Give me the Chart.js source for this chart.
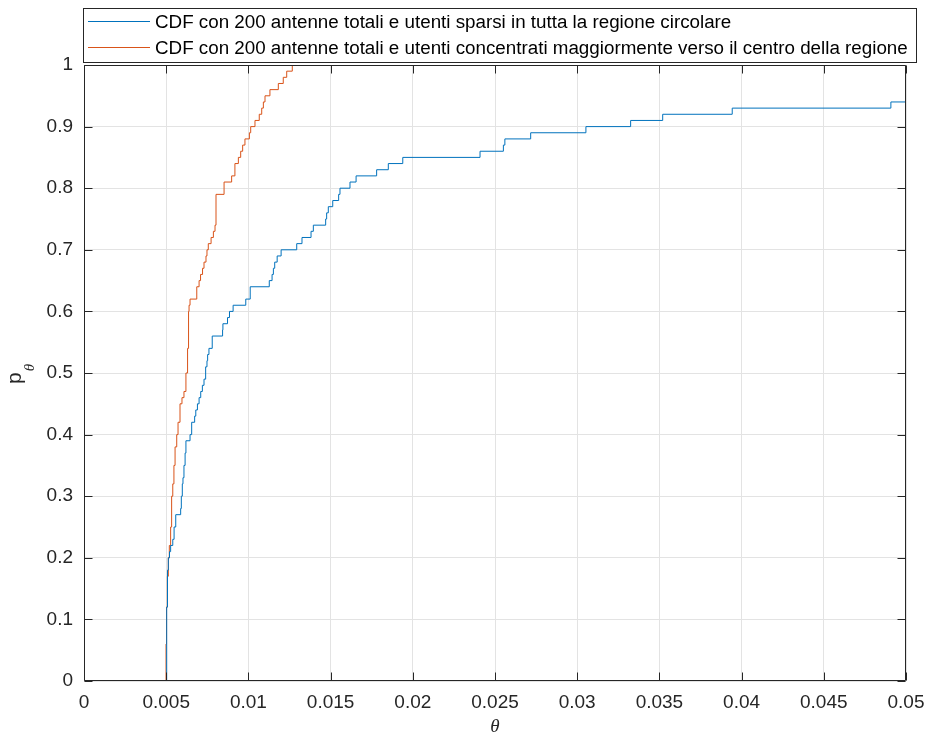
<!DOCTYPE html>
<html>
<head>
<meta charset="utf-8">
<script src="https://cdn.jsdelivr.net/npm/chart.js@4"></script>
<style>
  html, body { margin: 0; padding: 0; background: #ffffff; }
  #wrap { width: 928px; height: 736px; position: relative; }
</style>
</head>
<body>
<div id="wrap"><canvas id="c" width="928" height="736"></canvas></div>
<script>
// Empirical CDF samples: theta value where each step lands, and the CDF level reached there
const thetaSparsi = [0.00500, 0.00503, 0.00508, 0.00513, 0.00520, 0.00527, 0.00540, 0.00548, 0.00558, 0.00588,
  0.00592, 0.00598, 0.00602, 0.00608, 0.00615, 0.00620, 0.00645, 0.00655, 0.00673, 0.00680,
  0.00690, 0.00700, 0.00710, 0.00720, 0.00730, 0.00740, 0.00748, 0.00752, 0.00760, 0.00780,
  0.00843, 0.00845, 0.00873, 0.00885, 0.00907, 0.00984, 0.01011, 0.01127, 0.01144, 0.01152,
  0.01160, 0.01175, 0.01199, 0.01294, 0.01326, 0.01381, 0.01395, 0.01470, 0.01476, 0.01486,
  0.01513, 0.01549, 0.01557, 0.01618, 0.01655, 0.01780, 0.01851, 0.01939, 0.02409, 0.02551,
  0.02560, 0.02717, 0.03053, 0.03325, 0.03520, 0.03943, 0.04908, 0.05000];
const pSparsi = [0, 0.12, 0.18, 0.20, 0.21, 0.22, 0.23, 0.25, 0.27, 0.28,
  0.30, 0.32, 0.33, 0.35, 0.37, 0.39, 0.40, 0.42, 0.43, 0.44,
  0.45, 0.46, 0.47, 0.48, 0.49, 0.51, 0.52, 0.53, 0.54, 0.56,
  0.57, 0.58, 0.59, 0.60, 0.61, 0.62, 0.64, 0.65, 0.66, 0.67,
  0.68, 0.69, 0.70, 0.71, 0.72, 0.73, 0.74, 0.75, 0.76, 0.77,
  0.78, 0.79, 0.80, 0.81, 0.82, 0.83, 0.84, 0.85, 0.86, 0.87,
  0.88, 0.89, 0.90, 0.91, 0.92, 0.93, 0.94, 0.94];

const thetaCentro = [0.00497, 0.00499, 0.00502, 0.00507, 0.00513, 0.00519, 0.00527, 0.00533, 0.00540, 0.00547,
  0.00554, 0.00564, 0.00572, 0.00584, 0.00596, 0.00608, 0.00620, 0.00630, 0.00636, 0.00639,
  0.00645, 0.00686, 0.00700, 0.00709, 0.00721, 0.00730, 0.00742, 0.00748, 0.00756, 0.00773,
  0.00787, 0.00797, 0.00803, 0.00852, 0.00898, 0.00918, 0.00939, 0.00953, 0.00965, 0.00979,
  0.01006, 0.01014, 0.01040, 0.01066, 0.01081, 0.01091, 0.01101, 0.01131, 0.01182, 0.01212,
  0.01233, 0.01267];
const pCentro = [0, 0.06, 0.12, 0.17, 0.20, 0.22, 0.25, 0.30, 0.32, 0.35,
  0.38, 0.40, 0.42, 0.45, 0.46, 0.47, 0.50, 0.54, 0.60, 0.61,
  0.62, 0.64, 0.65, 0.66, 0.67, 0.68, 0.69, 0.70, 0.71, 0.72,
  0.73, 0.74, 0.79, 0.81, 0.82, 0.84, 0.85, 0.86, 0.87, 0.88,
  0.89, 0.90, 0.91, 0.92, 0.93, 0.94, 0.95, 0.96, 0.97, 0.98,
  0.99, 1.00];

const xTickValues = [0, 0.005, 0.01, 0.015, 0.02, 0.025, 0.03, 0.035, 0.04, 0.045, 0.05];
const xTickLabels = ['0', '0.005', '0.01', '0.015', '0.02', '0.025', '0.03', '0.035', '0.04', '0.045', '0.05'];
const yTickValues = [0, 0.1, 0.2, 0.3, 0.4, 0.5, 0.6, 0.7, 0.8, 0.9, 1];
const yTickLabels = ['0', '0.1', '0.2', '0.3', '0.4', '0.5', '0.6', '0.7', '0.8', '0.9', '1'];

const seriesLabels = [
  'CDF con 200 antenne totali e utenti sparsi in tutta la regione circolare',
  'CDF con 200 antenne totali e utenti concentrati maggiormente verso il centro della regione'
];
const seriesColors = ['#0072BD', '#D95319'];

const AXIS_COLOR = '#262626';
const SANS = '"Liberation Sans", Arial, Helvetica, sans-serif';
const SERIF = '"Liberation Serif", "Times New Roman", serif';

function toPoints(xs, ys) {
  return xs.map((x, i) => ({ x: x, y: ys[i] }));
}

// Box, inward tick marks, axis titles and the boxed legend
const decorations = {
  id: 'decorations',
  afterDraw(chart) {
    const ctx = chart.ctx;
    const a = chart.chartArea;
    const xs = chart.scales.x, ys = chart.scales.y;
    const L = Math.round(a.left) + 0.5, R = Math.round(a.right) - 0.5;
    const T = Math.round(a.top) + 0.5, B = Math.round(a.bottom) - 0.5;
    const tick = 8;
    ctx.save();
    ctx.strokeStyle = AXIS_COLOR;
    ctx.lineWidth = 1;
    ctx.beginPath();
    ctx.rect(L, T, R - L, B - T);
    xTickValues.forEach(v => {
      const px = Math.round(xs.getPixelForValue(v)) + 0.5;
      ctx.moveTo(px, B); ctx.lineTo(px, B - tick);
      ctx.moveTo(px, T); ctx.lineTo(px, T + tick);
    });
    yTickValues.forEach(v => {
      const py = Math.round(ys.getPixelForValue(v)) + 0.5;
      ctx.moveTo(L, py); ctx.lineTo(L + tick, py);
      ctx.moveTo(R, py); ctx.lineTo(R - tick, py);
    });
    ctx.stroke();

    // x title
    ctx.fillStyle = AXIS_COLOR;
    ctx.font = 'italic 19px ' + SERIF;
    ctx.textAlign = 'center';
    ctx.textBaseline = 'middle';
    ctx.fillText('\u03B8', (a.left + a.right) / 2, 727);

    // y title: p with subscript theta, rotated to read upwards
    ctx.save();
    ctx.translate(21, 384);
    ctx.rotate(-Math.PI / 2);
    ctx.textAlign = 'left';
    ctx.textBaseline = 'alphabetic';
    ctx.font = '21px ' + SANS;
    const pw = ctx.measureText('p').width;
    ctx.fillText('p', 0, 0);
    ctx.font = 'italic 15px ' + SERIF;
    ctx.fillText('\u03B8', pw + 1, 13);
    ctx.restore();

    // legend
    const lx = 83.5, ly = 8.5, lw = 833, lh = 54;
    ctx.fillStyle = '#ffffff';
    ctx.fillRect(lx, ly, lw, lh);
    ctx.strokeStyle = AXIS_COLOR;
    ctx.strokeRect(lx, ly, lw, lh);
    const rows = [21.5, 47.5];
    ctx.font = '18.8px ' + SANS;
    ctx.textAlign = 'left';
    ctx.textBaseline = 'middle';
    chart.data.datasets.forEach((ds, i) => {
      ctx.strokeStyle = ds.borderColor;
      ctx.beginPath();
      ctx.moveTo(88, rows[i]); ctx.lineTo(150, rows[i]);
      ctx.stroke();
      ctx.fillStyle = '#000000';
      ctx.fillText(ds.label, 155, rows[i] + 1);
    });
    ctx.restore();
  }
};

new Chart(document.getElementById('c'), {
  type: 'scatter',
  data: {
    datasets: [
      {
        label: seriesLabels[0],
        data: toPoints(thetaSparsi, pSparsi),
        borderColor: seriesColors[0],
        backgroundColor: seriesColors[0],
        showLine: true, stepped: 'before', borderWidth: 1, pointRadius: 0, fill: false
      },
      {
        label: seriesLabels[1],
        data: toPoints(thetaCentro, pCentro),
        borderColor: seriesColors[1],
        backgroundColor: seriesColors[1],
        showLine: true, stepped: 'before', borderWidth: 1, pointRadius: 0, fill: false
      }
    ]
  },
  options: {
    responsive: false,
    animation: false,
    devicePixelRatio: 1,
    layout: { padding: { left: 0, top: 65, right: 22, bottom: 0 } },
    plugins: { legend: { display: false }, tooltip: { enabled: false } },
    scales: {
      x: {
        type: 'linear', min: 0, max: 0.05,
        afterBuildTicks: s => { s.ticks = xTickValues.map(v => ({ value: v })); },
        afterFit: s => { s.height = 55; s.paddingLeft = 0; s.paddingRight = 0; },
        grid: { color: '#e3e3e3', drawTicks: false, lineWidth: 1 },
        border: { display: false },
        ticks: {
          padding: 10, color: AXIS_COLOR, maxRotation: 0, autoSkip: false,
          font: { family: SANS, size: 19 },
          callback: (v, i) => xTickLabels[i]
        }
      },
      y: {
        type: 'linear', min: 0, max: 1,
        afterBuildTicks: s => { s.ticks = yTickValues.map(v => ({ value: v })); },
        afterFit: s => { s.width = 84; s.paddingTop = 0; s.paddingBottom = 0; },
        grid: { color: '#e3e3e3', drawTicks: false, lineWidth: 1 },
        border: { display: false },
        ticks: {
          padding: 11, color: AXIS_COLOR, autoSkip: false,
          font: { family: SANS, size: 19 },
          callback: (v, i) => yTickLabels[i]
        }
      }
    }
  },
  plugins: [decorations]
});
</script>
</body>
</html>
